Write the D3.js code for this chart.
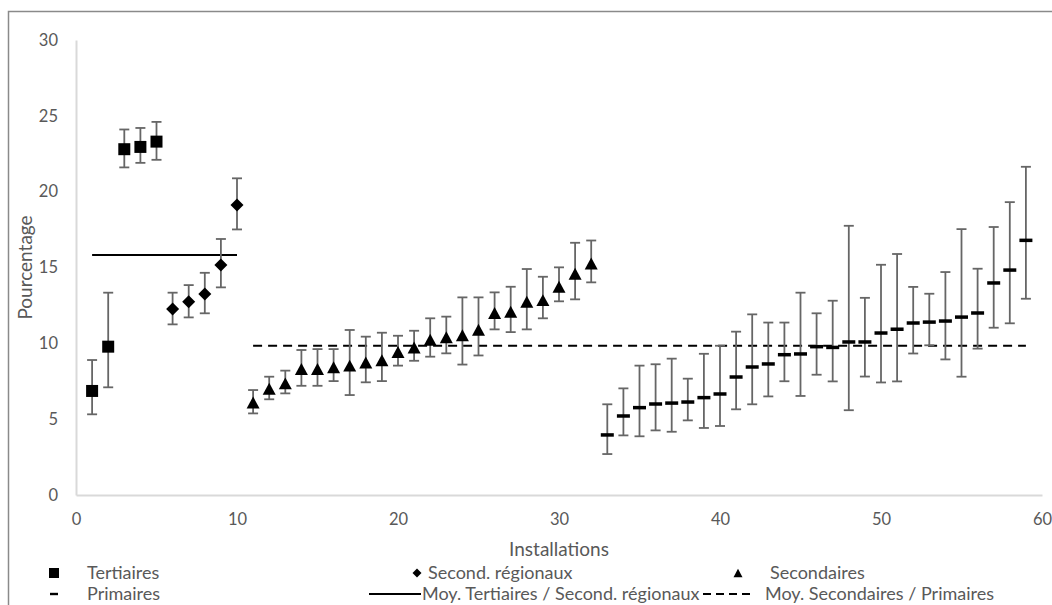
<!DOCTYPE html>
<html>
<head>
<meta charset="utf-8">
<script src="https://cdn.jsdelivr.net/npm/d3@7"></script>
<style>
  html, body { margin: 0; padding: 0; background: #fff; }
  svg { display: block; font-family: "Lato", "Open Sans", sans-serif; }
</style>
</head>
<body>
<svg id="chart" width="1052" height="605"></svg>
<script>
// Tertiaires
const tertX = [1, 2, 3, 4, 5];
const tertVal = [6.86, 9.78, 22.8, 22.95, 23.3];
const tertLow = [5.32, 7.1, 21.6, 21.9, 22.1];
const tertHigh = [8.9, 13.34, 24.1, 24.2, 24.6];

// Secondaires régionaux
const regX = [6, 7, 8, 9, 10];
const regVal = [12.26, 12.74, 13.25, 15.16, 19.12];
const regLow = [11.25, 11.71, 11.98, 13.69, 17.51];
const regHigh = [13.34, 13.84, 14.65, 16.88, 20.88];

// Secondaires
const secX = [11, 12, 13, 14, 15, 16, 17, 18, 19, 20, 21, 22, 23, 24, 25, 26, 27, 28, 29, 30, 31, 32];
const secVal = [6.1, 7.01, 7.36, 8.31, 8.31, 8.42, 8.53, 8.74, 8.88, 9.43, 9.72, 10.24, 10.4, 10.53, 10.9, 12.0, 12.08, 12.74, 12.85, 13.73, 14.59, 15.27];
const secLow = [5.38, 6.31, 6.7, 7.2, 7.2, 7.51, 6.59, 7.43, 7.51, 8.53, 8.85, 9.12, 9.34, 8.6, 9.2, 10.92, 10.74, 10.92, 11.65, 12.77, 12.9, 14.02];
const secHigh = [6.92, 7.8, 8.2, 9.56, 9.62, 9.62, 10.88, 10.44, 10.7, 10.5, 10.83, 11.65, 11.76, 13.03, 13.03, 13.36, 13.73, 14.9, 14.39, 15.01, 16.63, 16.78];

// Primaires
const primX = [33, 34, 35, 36, 37, 38, 39, 40, 41, 42, 43, 44, 45, 46, 47, 48, 49, 50, 51, 52, 53, 54, 55, 56, 57, 58, 59];
const primVal = [3.96, 5.21, 5.76, 6.0, 6.06, 6.13, 6.42, 6.66, 7.78, 8.44, 8.64, 9.25, 9.3, 9.78, 9.73, 10.09, 10.09, 10.68, 10.93, 11.34, 11.4, 11.47, 11.73, 12.0, 13.98, 14.83, 16.79];
const primLow = [2.7, 3.93, 3.87, 4.26, 4.17, 4.92, 4.42, 4.55, 5.65, 5.98, 6.5, 7.5, 6.53, 7.93, 7.49, 5.59, 7.81, 7.42, 7.49, 9.33, 9.87, 8.94, 7.8, 9.65, 11.03, 11.32, 12.94];
const primHigh = [5.98, 7.03, 8.53, 8.62, 8.99, 7.67, 9.31, 9.84, 10.77, 11.91, 11.37, 11.37, 13.34, 11.98, 12.81, 17.75, 13.0, 15.18, 15.89, 13.72, 13.27, 14.7, 17.53, 14.92, 17.67, 19.31, 21.64];

// Group means (reference lines)
const meanTertReg = 15.82;
const meanTertRegRange = [1, 10];
const meanSecPrim = 9.84;
const meanSecPrimRange = [11, 59];

// Axes
const xTicks = [0, 10, 20, 30, 40, 50, 60];
const yTicks = [0, 5, 10, 15, 20, 25, 30];
const xTitle = "Installations";
const yTitle = "Pourcentage";

const svg = d3.select("#chart");
const textColor = "#595959";
const axisColor = "#d9d9d9";
const errColor = "#666666";

const plot = { left: 76, right: 1042, top: 40, bottom: 495 };
const x = d3.scaleLinear().domain([0, 60]).range([plot.left, plot.right]);
const y = d3.scaleLinear().domain([0, 30]).range([plot.bottom, plot.top]);

// Outer chart frame
svg.append("path")
  .attr("d", "M8.5,606 V11.5 H1053")
  .attr("fill", "none")
  .attr("stroke", "#8a8a8a")
  .attr("stroke-width", 1.5);

// Axis lines
const xAxis = svg.append("g")
  .attr("transform", `translate(0,${plot.bottom})`)
  .call(d3.axisBottom(x).tickValues(xTicks).tickSize(0).tickPadding(18));
const yAxis = svg.append("g")
  .attr("transform", `translate(${plot.left},0)`)
  .call(d3.axisLeft(y).tickValues(yTicks).tickSize(0).tickPadding(18));
[xAxis, yAxis].forEach(g => {
  g.select(".domain").attr("stroke", axisColor).attr("stroke-width", 2);
  g.selectAll("text")
    .attr("fill", textColor)
    .style("font-family", "Lato, sans-serif")
    .style("font-size", "16.5px");
});

// Axis titles
svg.append("text")
  .attr("x", (plot.left + plot.right) / 2)
  .attr("y", 556)
  .attr("text-anchor", "middle")
  .attr("fill", textColor)
  .style("font-size", "19px")
  .text(xTitle);
svg.append("text")
  .attr("transform", `translate(32,${(plot.top + plot.bottom) / 2}) rotate(-90)`)
  .attr("text-anchor", "middle")
  .attr("fill", textColor)
  .style("font-size", "19px")
  .text(yTitle);

// Mean reference lines
svg.append("line")
  .attr("x1", x(meanTertRegRange[0])).attr("x2", x(meanTertRegRange[1]))
  .attr("y1", y(meanTertReg)).attr("y2", y(meanTertReg))
  .attr("stroke", "#000").attr("stroke-width", 2);
svg.append("line")
  .attr("x1", x(meanSecPrimRange[0])).attr("x2", x(meanSecPrimRange[1]))
  .attr("y1", y(meanSecPrim)).attr("y2", y(meanSecPrim))
  .attr("stroke", "#000").attr("stroke-width", 2)
  .attr("stroke-dasharray", "9,6");

// Marker shapes, centred on (0,0)
function markerPath(kind, s) {
  const p = d3.path();
  if (kind === "square") {
    p.rect(-s / 2, -s / 2, s, s);
  } else if (kind === "diamond") {
    p.moveTo(0, -s / 2); p.lineTo(s / 2, 0); p.lineTo(0, s / 2); p.lineTo(-s / 2, 0); p.closePath();
  } else if (kind === "triangle") {
    const h = s * 0.92;
    p.moveTo(0, -h / 2); p.lineTo(s / 2, h / 2); p.lineTo(-s / 2, h / 2); p.closePath();
  } else if (kind === "dash") {
    p.rect(-s / 2, -1.75, s, 3.5);
  }
  return p.toString();
}

const series = [
  { name: "Tertiaires", kind: "square", size: 12, xs: tertX, v: tertVal, lo: tertLow, hi: tertHigh },
  { name: "Second. régionaux", kind: "diamond", size: 13, xs: regX, v: regVal, lo: regLow, hi: regHigh },
  { name: "Secondaires", kind: "triangle", size: 13, xs: secX, v: secVal, lo: secLow, hi: secHigh },
  { name: "Primaires", kind: "dash", size: 13, xs: primX, v: primVal, lo: primLow, hi: primHigh }
];

const capHalf = 5;
series.forEach(s => {
  const pts = s.xs.map((xv, i) => ({ x: xv, v: s.v[i], lo: s.lo[i], hi: s.hi[i] }));
  const g = svg.append("g");
  const eb = g.selectAll("g.err").data(pts).join("g").attr("class", "err")
    .attr("stroke", errColor).attr("stroke-width", 1.8);
  eb.append("line")
    .attr("x1", d => x(d.x)).attr("x2", d => x(d.x))
    .attr("y1", d => y(d.lo)).attr("y2", d => y(d.hi));
  eb.append("line")
    .attr("x1", d => x(d.x) - capHalf).attr("x2", d => x(d.x) + capHalf)
    .attr("y1", d => y(d.lo)).attr("y2", d => y(d.lo));
  eb.append("line")
    .attr("x1", d => x(d.x) - capHalf).attr("x2", d => x(d.x) + capHalf)
    .attr("y1", d => y(d.hi)).attr("y2", d => y(d.hi));
  g.selectAll("path.mk").data(pts).join("path").attr("class", "mk")
    .attr("d", markerPath(s.kind, s.size))
    .attr("transform", d => `translate(${x(d.x)},${y(d.v)})`)
    .attr("fill", "#000");
});

// Legend
const legendItems = [
  { label: "Tertiaires", type: "square", mx: 54, tx: 87, ly: 573 },
  { label: "Second. régionaux", type: "diamond", mx: 417, tx: 428, ly: 573 },
  { label: "Secondaires", type: "triangle", mx: 738, tx: 770, ly: 573 },
  { label: "Primaires", type: "dash", mx: 54, tx: 87, ly: 594 },
  { label: "Moy. Tertiaires / Second. régionaux", type: "solid", mx: 395, tx: 422, ly: 594 },
  { label: "Moy. Secondaires / Primaires", type: "dashed", mx: 729, tx: 765, ly: 594 }
];
const leg = svg.append("g");
legendItems.forEach(it => {
  if (it.type === "solid" || it.type === "dashed") {
    leg.append("line")
      .attr("x1", it.mx - 26).attr("x2", it.mx + 26)
      .attr("y1", it.ly).attr("y2", it.ly)
      .attr("stroke", "#000").attr("stroke-width", 2)
      .attr("stroke-dasharray", it.type === "dashed" ? "8,5" : null);
  } else {
    const sz = it.type === "square" ? 10 : 9;
    leg.append("path")
      .attr("d", it.type === "dash" ? "M-4,-1.2h8v2.4h-8z" : markerPath(it.type, sz))
      .attr("transform", `translate(${it.mx},${it.ly})`)
      .attr("fill", "#000");
  }
  leg.append("text")
    .attr("x", it.tx).attr("y", it.ly)
    .attr("dy", "0.35em")
    .attr("fill", textColor)
    .style("font-size", "18px")
    .text(it.label);
});
</script>
</body>
</html>
